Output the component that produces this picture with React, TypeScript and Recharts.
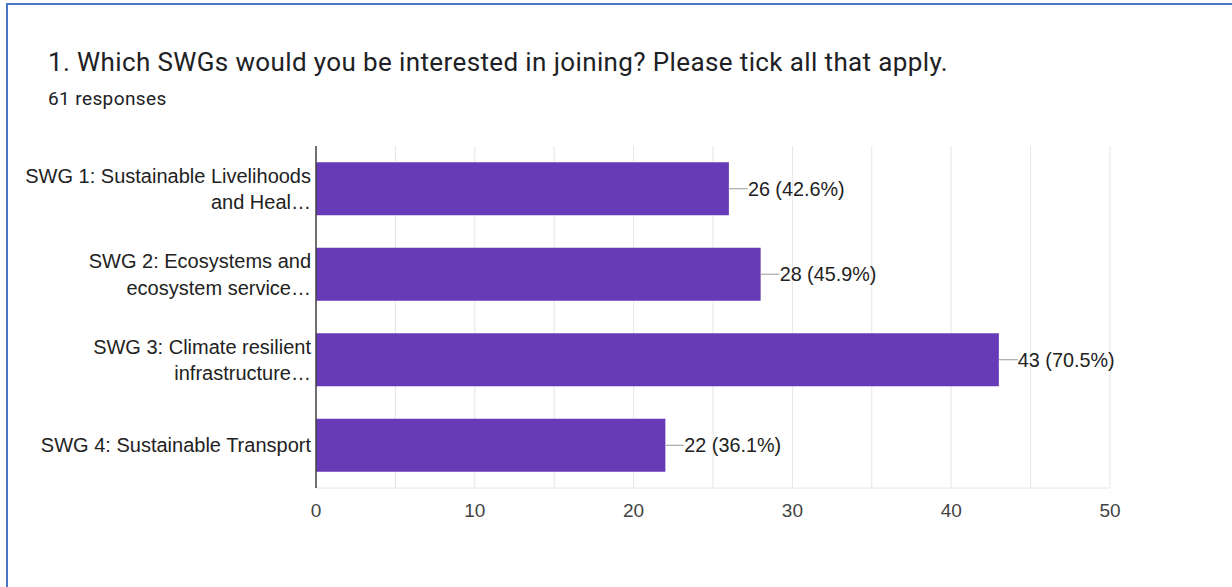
import React from "react";
import { BarChart, Bar, XAxis, YAxis, CartesianGrid, LabelList } from "recharts";

const categories = [
  "SWG 1: Sustainable Livelihoods\nand Heal…",
  "SWG 2: Ecosystems and\necosystem service…",
  "SWG 3: Climate resilient\ninfrastructure…",
  "SWG 4: Sustainable Transport",
];
const counts = [26, 28, 43, 22];
const percents = ["42.6%", "45.9%", "70.5%", "36.1%"];
const xTicks = [0, 5, 10, 15, 20, 25, 30, 35, 40, 45, 50];
const xTickLabels = [0, 10, 20, 30, 40, 50];

const title = "1. Which SWGs would you be interested in joining? Please tick all that apply.";
const subtitle = "61 responses";

const data = categories.map((name, i) => ({
  name,
  value: counts[i],
  label: `${counts[i]} (${percents[i]})`,
}));

const FONT = "'Liberation Sans', Arial, sans-serif";

const YTick = (props: any) => {
  const { x, y, payload } = props;
  const lines = String(payload.value).split("\n");
  const lh = 26.5;
  const start = -((lines.length - 1) * lh) / 2;
  const tx = x + 3;
  return (
    <text x={tx} y={y} textAnchor="end" fontFamily={FONT} fontSize={20} fill="#222">
      {lines.map((l: string, i: number) => (
        <tspan key={i} x={tx} y={y + start + i * lh} dy="0.35em">
          {l}
        </tspan>
      ))}
    </text>
  );
};

const XTick = (props: any) => {
  const { x, y, payload } = props;
  if (!xTickLabels.includes(payload.value)) return null;
  return (
    <text x={x} y={y + 21} textAnchor="middle" fontFamily={FONT} fontSize={19} fill="#444">
      {payload.value}
    </text>
  );
};

const ValueLabel = (props: any) => {
  const { x, y, width, height, value } = props;
  const ex = Number(x) + Number(width);
  const cy = Number(y) + Number(height) / 2;
  return (
    <g>
      <line x1={ex} y1={cy} x2={ex + 19} y2={cy} stroke="#999" strokeWidth={1} />
      <text x={ex + 19} y={cy} dy="0.35em" fontFamily={FONT} fontSize={19.8} fill="#222">
        {value}
      </text>
    </g>
  );
};

export default function App() {
  return (
    <div
      style={{
        position: "absolute",
        left: 0,
        top: 0,
        width: 1232,
        height: 587,
        background: "#fff",
        overflow: "hidden",
      }}
    >
      <div
        style={{
          position: "absolute",
          left: 6,
          top: 3,
          right: 0,
          bottom: 0,
          borderTop: "2px solid #4a76c6",
          borderLeft: "2px solid #4a76c6",
        }}
      />
      <div
        style={{
          position: "absolute",
          left: 48,
          top: 47,
          fontFamily: "Roboto, 'Open Sans', sans-serif",
          fontSize: 26,
          letterSpacing: 0.38,
          color: "#202124",
          whiteSpace: "nowrap",
          lineHeight: "30px",
        }}
      >
        {title}
      </div>
      <div
        style={{
          position: "absolute",
          left: 48,
          top: 88,
          fontFamily: "Roboto, sans-serif",
          fontSize: 19,
          letterSpacing: 0.4,
          color: "#202124",
          whiteSpace: "nowrap",
          lineHeight: "22px",
        }}
      >
        {subtitle}
      </div>
      <div style={{ position: "absolute", left: 0, top: 0 }}>
        <BarChart
          width={1232}
          height={587}
          data={data}
          layout="vertical"
          margin={{ top: 146, right: 122, bottom: 69, left: 0 }}
          barCategoryGap="19%"
        >
          <CartesianGrid horizontal={false} stroke="#e6e6e6" />
          <XAxis
            type="number"
            domain={[0, 50]}
            ticks={xTicks}
            interval={0}
            tickLine={false}
            axisLine={{ stroke: "#e6e6e6" }}
            tick={<XTick />}
            height={30}
          />
          <XAxis
            xAxisId="top"
            orientation="top"
            type="number"
            domain={[0, 50]}
            tick={false}
            tickLine={false}
            axisLine={{ stroke: "#e6e6e6" }}
            height={0}
          />
          <YAxis
            type="category"
            dataKey="name"
            width={316}
            tickLine={false}
            axisLine={{ stroke: "#444", strokeWidth: 1.5 }}
            tick={<YTick />}
            interval={0}
          />
          <Bar dataKey="value" fill="#673ab7" isAnimationActive={false}>
            <LabelList dataKey="label" content={<ValueLabel />} />
          </Bar>
        </BarChart>
      </div>
    </div>
  );
}
